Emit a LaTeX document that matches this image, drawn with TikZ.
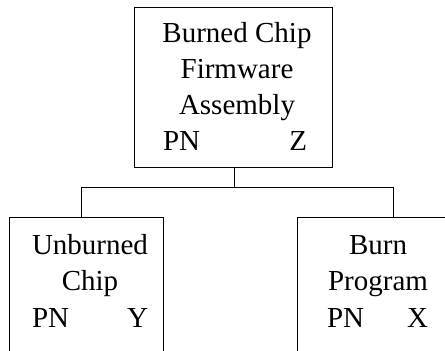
\documentclass[tikz,border=0pt]{standalone}
\usepackage{fontspec}
\setmainfont{Liberation Serif}
\begin{document}
\begin{tikzpicture}[x=1pt,y=-1pt,
  box/.style={draw,line width=1pt,minimum width=#1,inner sep=0pt,anchor=north west},
  txt/.style={anchor=base,inner sep=0pt,font=\fontsize{29}{36}\selectfont},
  link/.style={draw,line width=1pt}]
\useasboundingbox (0,0) rectangle (445,351);
\clip (0,0) rectangle (445,351);
% boxes
\node[box=198pt,minimum height=160pt] (top) at (134,7) {};
\node[box=154pt,minimum height=170pt] (left) at (9,217) {};
\node[box=154pt,minimum height=170pt] (right) at (297,217) {};
% texts top
\node[txt] (t1) at (237,42) {Burned Chip};
\node[txt] (t2) at (237,78) {Firmware};
\node[txt] (t3) at (237,114) {Assembly};
\node[txt] (t4) at (235,150) {\makebox[144pt]{PN\hfill Z}};
% texts left
\node[txt] (l1) at (90,254) {Unburned};
\node[txt] (l2) at (90,290) {Chip};
\node[txt] (l3) at (90,327) {\makebox[116pt]{PN\hfill Y}};
% texts right
\node[txt] (r1) at (378,254) {Burn};
\node[txt] (r2) at (378,290) {Program};
\node[txt] (r3) at (377.5,327) {\makebox[101pt]{PN\hfill X}};
% connectors
\coordinate (hub) at (234,187);
\coordinate (hl) at (81,187);
\coordinate (hr) at (393,187);
\draw[link] (top.south -| hub) -- (hub);
\draw[link] (hl) -- (hr);
\draw[link] (hl) -- (hl |- left.north);
\draw[link] (hr) -- (hr |- right.north);
\end{tikzpicture}
\end{document}
